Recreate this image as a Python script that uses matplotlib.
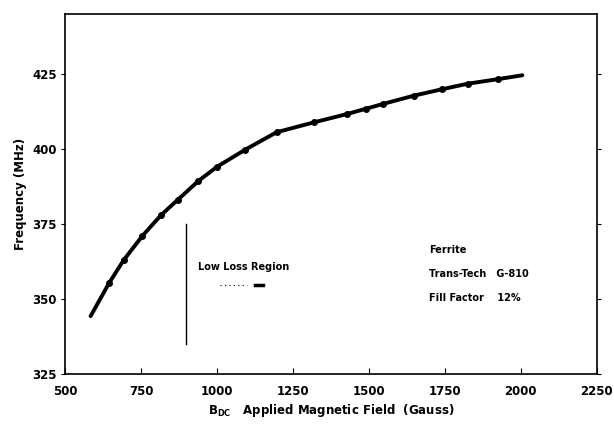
import numpy as np
import matplotlib
matplotlib.use("Agg")
import matplotlib.pyplot as plt

# values
field = [584, 644, 693, 754, 816, 870, 938, 1000, 1093, 1196, 1319, 1429,
         1489, 1545, 1648, 1739, 1826, 1925, 2005]
freq = [344.3, 355.2, 363.0, 371.0, 378.0, 383.0, 389.3, 394.1, 399.8, 405.6,
        408.9, 411.7, 413.4, 415.0, 417.8, 419.9, 421.8, 423.3, 424.6]
x_ticks = [500, 750, 1000, 1250, 1500, 1750, 2000, 2250]
y_ticks = [325, 350, 375, 400, 425]
region_x = 897
info = ["Ferrite", "Trans-Tech   G-810", "Fill Factor    12%"]

plt.rcParams['font.family'] = 'DejaVu Sans'
plt.rcParams['font.weight'] = 'bold'

fig = plt.figure(figsize=(6.14, 4.26), dpi=100)
ax = fig.add_axes([0.106, 0.122, 0.866, 0.845])

ax.plot(field, freq, color='black', lw=2.8, solid_capstyle='round',
        solid_joinstyle='round')
ax.plot(field[1:-1], freq[1:-1], 'o', color='black', ms=4)

ax.plot([region_x, region_x], [335, 375], color='black', lw=1.0)
ax.text(938, 360.8, "Low Loss Region", fontsize=7, fontweight='bold', va='center')
ax.plot([1010, 1100], [354.6, 354.6], color='black', lw=0.8, ls=(0, (1, 3)))
ax.plot([1125, 1150], [354.6, 354.6], color='black', lw=2.5)

for i, s in enumerate(info):
    ax.text(1699, 366.3 - i * 7.9, s, fontsize=7, fontweight='bold', va='center')

ax.set_xlim(500, 2250)
ax.set_ylim(325, 445)
ax.set_xticks(x_ticks)
ax.set_yticks(y_ticks)
ax.tick_params(axis='x', direction='in', top=False, length=4, labelsize=8.5, pad=8)
ax.tick_params(axis='y', direction='out', right=True, length=3, labelsize=8.5, pad=3)
for lab in ax.get_xticklabels() + ax.get_yticklabels():
    lab.set_fontweight('bold')
for sp in ax.spines.values():
    sp.set_linewidth(1.2)

ax.set_xlabel(r"B$_{\mathbf{DC}}$   Applied Magnetic Field  (Gauss)", fontsize=8.5,
              fontweight='bold', labelpad=3)
ax.set_ylabel("Frequency (MHz)", fontsize=8.5, fontweight='bold', labelpad=4)

fig.savefig("out.png", dpi=100)
